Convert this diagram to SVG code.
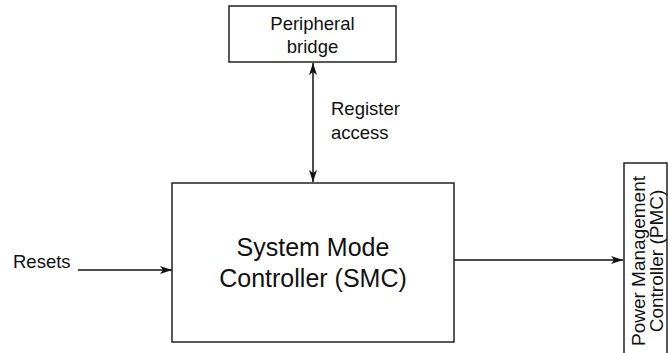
<svg xmlns="http://www.w3.org/2000/svg" width="668" height="353" viewBox="0 0 668 353">
<style>
.box{fill:#fff;stroke:#222;stroke-width:1.5}
.t{font-family:"Liberation Sans",Arial,sans-serif;font-size:18.5px;fill:#111}
.big{font-size:25px}
.ln{stroke:#111;stroke-width:1.5;fill:none}
</style>
<defs>
<marker id="ah" viewBox="0 0 12 8" refX="12" refY="4" markerWidth="12" markerHeight="8" markerUnits="userSpaceOnUse" orient="auto-start-reverse">
<path d="M0,0 L12,4 L0,8 L3,4 z" fill="#111"/>
</marker>
</defs>
<g id="connectors">
<line class="ln" x1="313" y1="63" x2="313" y2="182" marker-start="url(#ah)" marker-end="url(#ah)"/>
<line class="ln" x1="78" y1="270" x2="172" y2="270" marker-end="url(#ah)"/>
<line class="ln" x1="454" y1="260" x2="623" y2="260" marker-end="url(#ah)"/>
<text class="t" x="331" y="115">Register</text>
<text class="t" x="331" y="139">access</text>
<text class="t" x="13" y="268">Resets</text>
</g>
<g id="peripheral-bridge">
<rect class="box" x="229" y="6" width="167" height="56"/>
<text class="t" x="312.5" y="30" text-anchor="middle">Peripheral</text>
<text class="t" x="312.5" y="53" text-anchor="middle">bridge</text>
</g>
<g id="smc">
<rect class="box" x="172" y="183" width="282" height="159"/>
<text class="t big" x="313" y="256" text-anchor="middle">System Mode</text>
<text class="t big" x="313" y="287" text-anchor="middle">Controller (SMC)</text>
</g>
<g id="pmc">
<rect class="box" x="624" y="163" width="43" height="200"/>
<g transform="translate(645,261) rotate(-90)">
<text class="t" x="0" y="0" text-anchor="middle" style="font-size:19px">Power Management</text>
<text class="t" x="0" y="18" text-anchor="middle" style="font-size:19px">Controller (PMC)</text>
</g>
</g>
</svg>
